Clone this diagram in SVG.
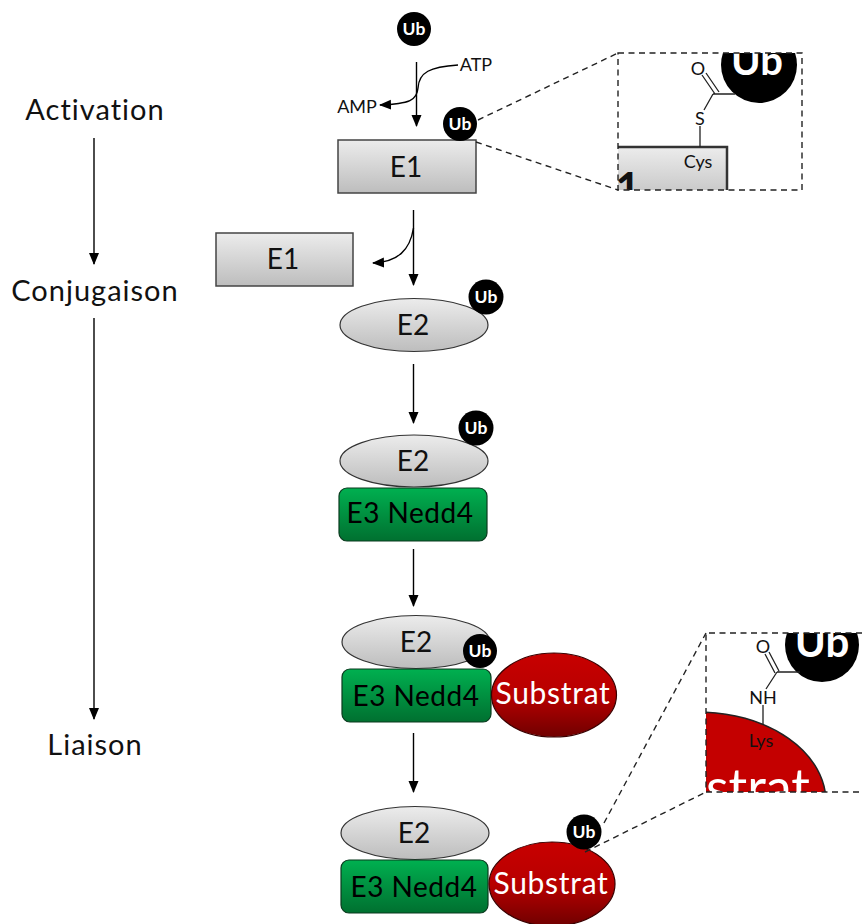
<svg xmlns="http://www.w3.org/2000/svg" width="862" height="924" viewBox="0 0 862 924">
<style>
text{font-family:"Lato","Carlito","Open Sans",sans-serif;text-anchor:middle;fill:#111}
.lab{font-size:29px;letter-spacing:1px}
.sm{font-size:18px}
.node{font-size:28px}
.e3t{font-size:28px;letter-spacing:.5px;fill:#000}
.sub{font-size:30px;letter-spacing:.7px;fill:#fff}
.ub{font-size:17.500px;font-weight:700;fill:#fff}
.c{fill:#000}
.g{fill:url(#grey);stroke:#444;stroke-width:1.500}
.e{fill:url(#grey);stroke:#333;stroke-width:1.200}
.e3{fill:url(#green);stroke:#0b3a1f;stroke-width:1.200}
.s{fill:url(#red);stroke:#3a0000;stroke-width:1.200}
.ar{fill:none;stroke:#000;stroke-width:1.400;marker-end:url(#a)}
.d{fill:none;stroke:#222;stroke-width:1.400;stroke-dasharray:6 4.500}
.b{fill:none;stroke:#222;stroke-width:1.300}
</style>
<defs>
<linearGradient id="grey" x1="0" y1="0" x2="0" y2="1"><stop offset="0" stop-color="#ececec"/><stop offset="1" stop-color="#bdbdbd"/></linearGradient>
<linearGradient id="green" x1="0" y1="0" x2="0" y2="1"><stop offset="0" stop-color="#00b050"/><stop offset="1" stop-color="#007030"/></linearGradient>
<linearGradient id="red" x1="0" y1="0" x2="0" y2="1"><stop offset="0" stop-color="#c80000"/><stop offset=".5" stop-color="#b80000"/><stop offset="1" stop-color="#700000"/></linearGradient>
<marker id="a" viewBox="0 0 12 12" refX="11" refY="6" markerWidth="12" markerHeight="12" markerUnits="userSpaceOnUse" orient="auto"><path d="M0 1 L12 6 L0 11 Z" fill="#000"/></marker>
<clipPath id="c1"><rect x="618" y="53" width="184" height="137"/></clipPath>
<clipPath id="c2"><rect x="706" y="633" width="156" height="159"/></clipPath>
</defs>

<g id="label-activation"><text class="lab" x="95" y="120">Activation</text></g>
<g id="label-conjugaison"><text class="lab" x="95" y="301">Conjugaison</text></g>
<g id="label-liaison"><text class="lab" x="95" y="755">Liaison</text></g>

<g id="ub-free"><circle class="c" cx="414" cy="29" r="17"/><text class="ub" x="414" y="35">Ub</text></g>
<g id="label-atp"><text class="sm" x="476" y="71">ATP</text></g>
<g id="label-amp"><text class="sm" x="357" y="113">AMP</text></g>

<g id="e1-a"><rect class="g" x="338" y="140" width="138" height="53"/><text class="node" x="406" y="177">E1</text></g>
<g id="ub-e1"><circle class="c" cx="460" cy="124" r="17"/><text class="ub" x="460" y="130">Ub</text></g>

<g id="inset-e1">
<g clip-path="url(#c1)">
<circle class="c" cx="759" cy="65" r="38"/>
<text x="757" y="75" style="font-size:40px;font-weight:700;fill:#fff">Ub</text>
<rect x="600" y="147" width="127" height="60" fill="url(#grey)" stroke="#333" stroke-width="2.500"/>
<text x="628" y="204" style="font-size:44px;font-weight:700">1</text>
</g>
<path class="b" d="M702 75L715 94M706 73L719 92M713 94H735M713 94L704 110M700 126V147"/>
<text class="sm" x="698" y="75">O</text>
<text class="sm" x="700" y="125">S</text>
<text class="sm" x="698" y="168">Cys</text>
<rect class="d" x="618" y="53" width="184" height="137"/>
</g>

<g id="e1-b"><rect class="g" x="216" y="233" width="137" height="53"/><text class="node" x="283" y="269">E1</text></g>

<g id="e2-a"><ellipse class="e" cx="414" cy="325" rx="74" ry="26.500"/><text class="node" x="413" y="335">E2</text></g>
<g id="ub-e2a"><circle class="c" cx="486" cy="297" r="17.500"/><text class="ub" x="486" y="303">Ub</text></g>

<g id="e2-b"><ellipse class="e" cx="414" cy="461" rx="74" ry="26"/><text class="node" x="413" y="471">E2</text></g>
<g id="ub-e2b"><circle class="c" cx="476" cy="428" r="17.500"/><text class="ub" x="476" y="434">Ub</text></g>
<g id="e3-a"><rect class="e3" x="339" y="488" width="148" height="53" rx="8"/><text class="e3t" x="410" y="523">E3 Nedd4</text></g>

<g id="e2-c"><ellipse class="e" cx="416" cy="642" rx="74" ry="26.500"/><text class="node" x="416" y="652">E2</text></g>
<g id="e3-b"><rect class="e3" x="342" y="669" width="149" height="53" rx="8"/><text class="e3t" x="416" y="706">E3 Nedd4</text></g>
<g id="ub-e2c"><circle class="c" cx="480" cy="651" r="17"/><text class="ub" x="480" y="657">Ub</text></g>
<g id="substrat-a"><ellipse class="s" cx="554" cy="695" rx="62.500" ry="42"/><text class="sub" x="553" y="704">Substrat</text></g>

<g id="e2-d"><ellipse class="e" cx="415" cy="833" rx="74" ry="26.500"/><text class="node" x="414" y="843">E2</text></g>
<g id="e3-c"><rect class="e3" x="341" y="860" width="147" height="53" rx="8"/><text class="e3t" x="414" y="897">E3 Nedd4</text></g>
<g id="substrat-b"><ellipse class="s" cx="552" cy="884" rx="63" ry="42"/><text class="sub" x="551" y="894">Substrat</text></g>
<g id="ub-sub"><circle class="c" cx="584" cy="832" r="17.500"/><text class="ub" x="584" y="838">Ub</text></g>

<g id="inset-substrat">
<g clip-path="url(#c2)">
<circle class="c" cx="822" cy="645" r="37"/>
<text x="822" y="657" style="font-size:42px;font-weight:700;fill:#fff">Ub</text>
<ellipse cx="698" cy="802" rx="128" ry="90" fill="#c40000" stroke="#222" stroke-width="1.500"/>
<text x="758" y="806" style="font-size:52px;fill:#fff">strat</text>
</g>
<path class="b" d="M765 654L775 673M769 652L779 671M777 672H800M777 672L766 689M763 705V725"/>
<text class="sm" x="763" y="653">O</text>
<text class="sm" x="763" y="704">NH</text>
<text class="sm" x="761" y="747">Lys</text>
<path class="d" d="M862 633H706V792H862"/>
</g>

<g id="connectors">
<path class="ar" d="M94 138V264"/>
<path class="ar" d="M94 318V719"/>
<path class="ar" d="M416.500 62V126"/>
<path class="ar" d="M458 65C430 67 419 72 418 88C417 100 410 104 380 105"/>
<path class="ar" d="M413.500 210V285"/>
<path class="ar" d="M413.500 228C410 250 398 262 373 263"/>
<path class="ar" d="M413.500 364V423"/>
<path class="ar" d="M413.500 549V606"/>
<path class="ar" d="M413.500 733V792"/>
<path class="d" d="M478 120L618 53M476 142L618 190"/>
<path class="d" d="M604 823L706 633M585 852L706 792"/>
</g>
</svg>
